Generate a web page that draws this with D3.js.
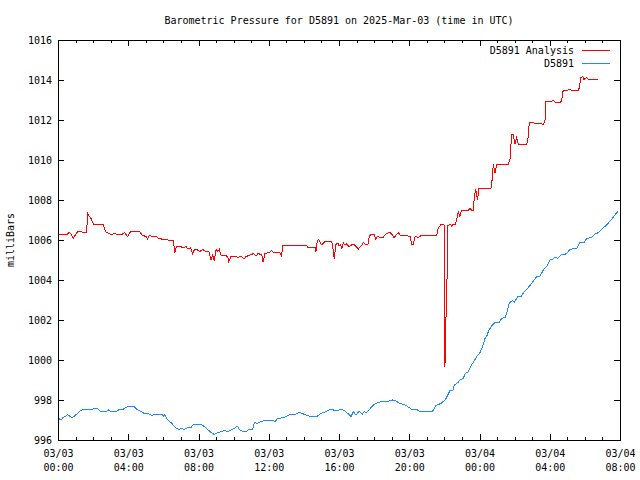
<!DOCTYPE html>
<html>
<head>
<meta charset="utf-8">
<script src="https://cdn.jsdelivr.net/npm/d3@7"></script>
<style>
  body { margin: 0; background: #fff; }
  svg { display: block; }
  text { font-family: "DejaVu Sans Mono", "Liberation Mono", monospace; font-size: 10px; fill: #000; }
</style>
</head>
<body>
<svg id="chart" width="640" height="480"></svg>
<script>
// ---- Data (minutes since 2025-03-03 00:00 UTC) ----
const titleText = "Barometric Pressure for D5891 on 2025-Mar-03 (time in UTC)";
const yLabelText = "milliBars";
const seriesNames = ["D5891 Analysis", "D5891"];
const seriesColors = ["#ff0000", "#1e8cff"];

const redMinutes = [2,16,33,37,44,52,59,67,98,101,107,113,121,155,162,181,196,204,221,227,238,249,278,287,301,306,312,321,335,344,360,375,394,399,405,420,426,437,445,453,460,466,477,485,494,506,515,523,529,534,540,546,551,557,563,568,580,583,591,608,617,625,636,642,662,667,676,684,696,701,707,724,730,735,758,764,767,821,850,853,878,881,886,891,898,904,912,935,941,944,949,956,960,966,969,975,981,986,995,1003,1011,1018,1026,1038,1043,1052,1059,1064,1072,1080,1086,1091,1100,1111,1120,1134,1140,1148,1155,1163,1168,1180,1191,1203,1208,1214,1220,1231,1243,1282,1288,1294,1299,1307,1316,1320,1321,1322,1324,1328,1330,1331,1339,1345,1350,1356,1362,1368,1373,1379,1402,1408,1413,1419,1422,1427,1433,1438,1479,1483,1487,1493,1499,1538,1544,1550,1555,1561,1567,1573,1601,1607,1610,1635,1647,1658,1664,1667,1687,1692,1698,1718,1723,1726,1743,1749,1755,1778,1781,1786,1793,1797,1806,1812,1846];
const redValues = [1006.28,1006.28,1006.3,1006.4,1006.33,1006.08,1006.25,1006.42,1006.38,1007.33,1007.17,1007.08,1006.78,1006.78,1006.42,1006.28,1006.32,1006.25,1006.3,1006.38,1006.17,1006.45,1006.45,1006.25,1006.17,1006.03,1006.25,1006.17,1006.2,1006.08,1006.03,1006.0,1006.0,1005.37,1005.67,1005.67,1005.6,1005.67,1005.55,1005.6,1005.3,1005.53,1005.5,1005.42,1005.53,1005.42,1005.45,1005.0,1005.25,1004.95,1005.53,1005.42,1005.53,1005.25,1005.2,1005.25,1005.17,1004.92,1005.17,1005.17,1005.13,1005.2,1005.05,1005.17,1005.28,1005.33,1005.2,1005.33,1005.25,1004.88,1005.33,1005.38,1005.47,1005.38,1005.38,1005.17,1005.7,1005.73,1005.73,1005.63,1005.63,1005.42,1005.97,1006.03,1005.8,1005.8,1005.92,1005.92,1005.42,1005.03,1005.78,1005.85,1005.7,1005.8,1005.53,1005.85,1005.75,1005.8,1005.67,1005.75,1005.8,1005.67,1005.55,1005.75,1005.87,1005.78,1005.8,1006.2,1006.3,1006.28,1006.03,1006.2,1006.13,1006.13,1006.3,1006.38,1006.3,1006.12,1006.25,1006.38,1006.25,1006.2,1006.22,1006.17,1005.8,1005.8,1006.17,1006.13,1006.25,1006.25,1006.22,1006.25,1006.58,1006.75,1006.8,1006.72,1003.2,999.67,1001.5,1003.1,1005.0,1006.7,1006.8,1006.7,1006.8,1006.75,1007.0,1007.42,1007.17,1007.5,1007.5,1007.58,1007.5,1007.5,1008.08,1008.55,1008.0,1008.58,1008.58,1009.0,1009.78,1009.33,1009.78,1009.78,1010.0,1011.28,1011.28,1010.78,1011.12,1010.78,1010.78,1011.17,1011.88,1011.83,1011.83,1011.78,1012.0,1012.95,1012.95,1012.98,1012.9,1012.9,1013.17,1013.5,1013.5,1013.55,1013.48,1013.48,1013.62,1014.12,1014.17,1014.03,1014.12,1014.03,1014.03];

const blueMinutes = [2,10,18,27,33,41,48,56,67,75,90,96,107,119,124,136,147,164,173,181,198,207,215,221,227,238,253,261,272,284,295,312,321,329,355,360,365,371,380,392,401,412,424,431,443,454,460,471,489,500,511,523,534,546,557,568,580,591,602,614,619,631,642,652,665,671,682,694,711,733,741,751,773,785,796,811,824,836,841,857,887,899,916,933,944,956,967,978,990,1001,1009,1018,1029,1039,1046,1052,1064,1075,1086,1104,1126,1143,1155,1166,1183,1200,1212,1223,1234,1246,1257,1269,1280,1291,1308,1323,1339,1350,1354,1366,1373,1385,1390,1402,1413,1425,1430,1442,1450,1459,1465,1472,1484,1493,1507,1516,1527,1533,1541,1552,1559,1571,1582,1593,1607,1618,1635,1647,1658,1673,1681,1689,1698,1708,1721,1734,1741,1749,1766,1772,1783,1798,1806,1823,1835,1846,1857,1874,1891,1912];
const blueValues = [997.08,997.0,997.13,997.2,997.28,997.17,997.12,997.2,997.33,997.45,997.55,997.5,997.52,997.55,997.58,997.55,997.42,997.42,997.5,997.42,997.42,997.5,997.55,997.52,997.58,997.67,997.7,997.65,997.5,997.42,997.33,997.3,997.22,997.28,997.28,997.17,997.28,997.08,996.95,996.78,996.62,996.53,996.58,996.53,996.62,996.62,996.75,996.78,996.78,996.67,996.53,996.37,996.28,996.37,996.42,996.47,996.42,996.5,996.58,996.7,996.53,996.42,996.42,996.53,996.53,996.87,996.83,996.92,997.0,997.0,996.92,997.08,997.12,997.22,997.28,997.28,997.38,997.33,997.28,997.2,997.2,997.33,997.42,997.55,997.48,997.47,997.55,997.48,997.33,997.17,997.42,997.25,997.45,997.28,997.42,997.35,997.53,997.72,997.83,997.92,997.92,998.0,997.95,997.83,997.78,997.62,997.5,997.55,997.45,997.42,997.45,997.42,997.45,997.72,997.83,998.0,998.47,998.5,998.75,998.87,999.0,999.08,999.3,999.42,999.75,1000.03,1000.17,1000.37,1000.67,1001.08,1001.2,1001.5,1001.75,1001.87,1001.87,1002.08,1002.12,1002.33,1002.83,1002.97,1002.9,1003.17,1003.17,1003.42,1003.63,1003.83,1004.17,1004.2,1004.5,1004.75,1005.0,1005.02,1005.13,1005.08,1005.3,1005.3,1005.38,1005.53,1005.58,1005.58,1005.87,1005.87,1006.08,1006.13,1006.3,1006.37,1006.53,1006.75,1007.03,1007.42];

const yTicks = [996, 998, 1000, 1002, 1004, 1006, 1008, 1010, 1012, 1014, 1016];
const xTickDates = ["03/03","03/03","03/03","03/03","03/03","03/03","03/04","03/04","03/04"];
const xTickTimes = ["00:00","04:00","08:00","12:00","16:00","20:00","00:00","04:00","08:00"];
const xTickMinutes = [0, 240, 480, 720, 960, 1200, 1440, 1680, 1920];
const xMinorMinutes = d3.range(0, 1921, 60);

// ---- Layout ----
const W = 640, H = 480;
const margin = { left: 58, right: 20, top: 40, bottom: 40 };
const svg = d3.select("#chart");

const x = d3.scaleLinear().domain([0, 1920]).range([margin.left, W - margin.right]);
const y = d3.scaleLinear().domain([996, 1016]).range([H - margin.bottom, margin.top]);

// Title
svg.append("text").attr("x", (margin.left + W - margin.right) / 2).attr("y", 23.5)
  .attr("text-anchor", "middle").text(titleText);

// Y label
svg.append("text").attr("transform", `translate(14,${(margin.top + H - margin.bottom) / 2}) rotate(-90)`)
  .attr("text-anchor", "middle").text(yLabelText);

const axisStyle = g => {
  g.selectAll("path").attr("stroke", "#000").attr("shape-rendering", "crispEdges");
  g.selectAll("line").attr("stroke", "#000").attr("shape-rendering", "crispEdges");
  g.attr("font-family", null).attr("font-size", null);
};

// Left axis
svg.append("g").attr("transform", `translate(${margin.left},0)`)
  .call(d3.axisLeft(y).tickValues(yTicks).tickSize(-6).tickSizeOuter(0).tickPadding(6).tickFormat(d3.format("d")))
  .call(axisStyle)
  .call(g => g.select(".domain").remove());

// Right axis
svg.append("g").attr("transform", `translate(${W - margin.right},0)`)
  .call(d3.axisRight(y).tickValues(yTicks).tickSize(-6).tickSizeOuter(0).tickFormat(""))
  .call(axisStyle)
  .call(g => g.select(".domain").remove());

// Bottom axis: minor
svg.append("g").attr("transform", `translate(0,${H - margin.bottom})`)
  .call(d3.axisBottom(x).tickValues(xMinorMinutes).tickSize(-3).tickSizeOuter(0).tickFormat(""))
  .call(axisStyle).call(g => g.select(".domain").remove());
// Top axis: minor
svg.append("g").attr("transform", `translate(0,${margin.top})`)
  .call(d3.axisTop(x).tickValues(xMinorMinutes).tickSize(-3).tickSizeOuter(0).tickFormat(""))
  .call(axisStyle).call(g => g.select(".domain").remove());
// Top axis: major
svg.append("g").attr("transform", `translate(0,${margin.top})`)
  .call(d3.axisTop(x).tickValues(xTickMinutes).tickSize(-6).tickSizeOuter(0).tickFormat(""))
  .call(axisStyle).call(g => g.select(".domain").remove());
// Bottom axis: major with two-line labels
const bottom = svg.append("g").attr("transform", `translate(0,${H - margin.bottom})`)
  .call(d3.axisBottom(x).tickValues(xTickMinutes).tickSize(-6).tickSizeOuter(0).tickPadding(8).tickFormat(""))
  .call(axisStyle).call(g => g.select(".domain").remove());
bottom.selectAll(".tick").each(function(d, i) {
  const t = d3.select(this).select("text");
  t.attr("y", null).attr("dy", null);
  t.append("tspan").attr("x", 0).attr("y", 16.5).text(xTickDates[i]);
  t.append("tspan").attr("x", 0).attr("y", 30.5).text(xTickTimes[i]);
});

// Frame
svg.append("rect").attr("x", margin.left).attr("y", margin.top)
  .attr("width", W - margin.left - margin.right).attr("height", H - margin.top - margin.bottom)
  .attr("fill", "none").attr("stroke", "#000").attr("shape-rendering", "crispEdges");

// Lines
const line = d3.line().x(d => x(d[0])).y(d => y(d[1]));
const redData = redMinutes.map((m, i) => [m, redValues[i]]);
const blueData = blueMinutes.map((m, i) => [m, blueValues[i]]);
svg.append("path").datum(blueData).attr("d", line).attr("fill", "none")
  .attr("stroke", seriesColors[1]).attr("stroke-width", 1).attr("shape-rendering", "crispEdges");
svg.append("path").datum(redData).attr("d", line).attr("fill", "none")
  .attr("stroke", seriesColors[0]).attr("stroke-width", 1).attr("shape-rendering", "crispEdges");

// Legend
const legendY = [50.5, 63];
seriesNames.forEach((name, i) => {
  svg.append("text").attr("x", 574).attr("y", legendY[i] + 3.5).attr("text-anchor", "end").text(name);
  svg.append("line").attr("x1", 582).attr("x2", 610).attr("y1", legendY[i]).attr("y2", legendY[i])
    .attr("stroke", seriesColors[i]).attr("stroke-width", 1).attr("shape-rendering", "crispEdges");
});
</script>
</body>
</html>
